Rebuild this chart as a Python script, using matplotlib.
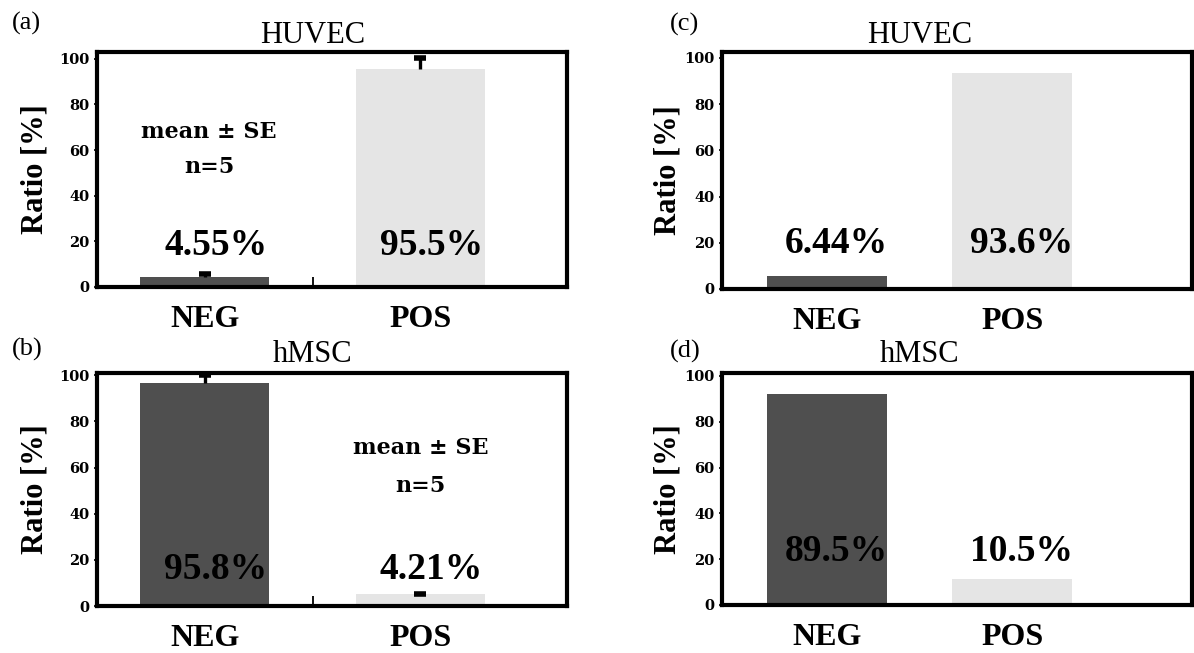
import matplotlib
matplotlib.use("Agg")
import matplotlib.pyplot as plt
from matplotlib.transforms import blended_transform_factory

# ---------------- data ----------------
categories = ["NEG", "POS"]

# (a) HUVEC, mean ± SE
a_values = [4.55, 95.5]
a_se = [1.0, 5.0]
a_labels = ["4.55%", "95.5%"]

# (b) hMSC, mean ± SE
b_values = [96.8, 5.0]
b_se = [3.3, 0.3]
b_labels = ["95.8%", "4.21%"]

# (c) HUVEC
c_values = [5.8, 93.4]
c_labels = ["6.44%", "93.6%"]

# (d) hMSC
d_values = [92.0, 11.3]
d_labels = ["89.5%", "10.5%"]

titles = ["HUVEC", "hMSC", "HUVEC", "hMSC"]
panel_tags = ["(a)", "(b)", "(c)", "(d)"]
yticks = [0, 20, 40, 60, 80, 100]

# ---------------- style ----------------
SERIF = ["Liberation Serif", "DejaVu Serif"]
WIDE_SERIF = ["DejaVu Serif"]
plt.rcParams["font.family"] = SERIF
bar_colors = ["#4f4f4f", "#e5e5e5"]

fig = plt.figure(figsize=(11.94, 6.53), dpi=100)

W, H = 1194.0, 653.0


def ax_from_px(left, top, right, bottom):
    return fig.add_axes([left / W, 1 - bottom / H, (right - left) / W, (bottom - top) / H])


axes_specs = [
    dict(box=(97, 52, 567, 287), xlim=(-0.5, 1.68), ytop=103.0, width=0.6,
         values=a_values, se=a_se, labels=a_labels, label_y=18.0,
         note=(0.02, 68.0, 52.5), mid=True, title_y=1.07),
    dict(box=(97, 373, 567, 606), xlim=(-0.5, 1.68), ytop=101.0, width=0.6,
         values=b_values, se=b_se, labels=b_labels, label_y=16.0,
         note=(1.0, 68.6, 52.0), mid=True, title_y=1.08),
    dict(box=(722, 52, 1192, 289), xlim=(-0.565, 1.97), ytop=102.5, width=0.645,
         values=c_values, se=None, labels=c_labels, label_y=19.5,
         note=None, mid=False, title_y=1.07),
    dict(box=(722, 373, 1192, 605), xlim=(-0.565, 1.97), ytop=101.3, width=0.645,
         values=d_values, se=None, labels=d_labels, label_y=23.4,
         note=None, mid=False, title_y=1.08),
]

for i, spec in enumerate(axes_specs):
    ax = ax_from_px(*spec["box"])
    x = list(range(len(categories)))
    ax.bar(x, spec["values"], width=spec["width"], color=bar_colors,
           edgecolor="none", zorder=2)
    if spec["se"] is not None:
        tops = [v + e for v, e in zip(spec["values"], spec["se"])]
        ax.errorbar(x, spec["values"], yerr=[[0, 0], spec["se"]], fmt="none",
                    ecolor="black", elinewidth=2.4, capsize=0, zorder=3)
        ax.plot(x, tops, linestyle="none", marker="_", markersize=8,
                markeredgewidth=4, color="black", zorder=3)
    ax.set_xlim(*spec["xlim"])
    ax.set_ylim(0, spec["ytop"])
    ax.set_yticks(yticks)
    ax.set_yticklabels([str(t) for t in yticks], fontsize=10.5,
                       fontweight="bold", family=WIDE_SERIF)
    ax.tick_params(axis="y", direction="out", length=2.5, width=1.2, pad=3)
    ax.set_xticks(x)
    ax.set_xticklabels(categories, fontsize=23, fontweight="bold")
    ax.tick_params(axis="x", length=0, pad=13)
    if spec["mid"]:
        ax.set_xticks([0.5], minor=True)
        ax.tick_params(axis="x", which="minor", direction="in", length=7, width=1.3)
    for s in ax.spines.values():
        s.set_linewidth(3.0)
    ax.set_ylabel("Ratio [%]", fontsize=22, fontweight="bold",
                  labelpad=7 if i < 2 else 1)

    # value labels
    for xi, lab in zip(x, spec["labels"]):
        ax.text(xi + 0.05, spec["label_y"], lab, ha="center", va="center",
                fontsize=27, fontweight="bold", zorder=4)

    # mean ± SE note
    if spec["note"] is not None:
        nx, ny1, ny2 = spec["note"]
        ax.text(nx, ny1, "mean ± SE", ha="center", va="center",
                fontsize=16, fontweight="bold", family=WIDE_SERIF)
        ax.text(nx, ny2, "n=5", ha="center", va="center",
                fontsize=16, fontweight="bold", family=WIDE_SERIF)

    # title centered over middle of categories
    trans = blended_transform_factory(ax.transData, ax.transAxes)
    ax.text(0.5, spec["title_y"], titles[i], transform=trans, ha="center",
            va="center", fontsize=22)

# panel tags
tag_pos = [(12, 23), (12, 349), (670, 24), (670, 351)]
for tag, (px, py) in zip(panel_tags, tag_pos):
    fig.text(px / W, 1 - py / H, tag, ha="left", va="center", fontsize=19)

fig.savefig("out.png", dpi=100)
